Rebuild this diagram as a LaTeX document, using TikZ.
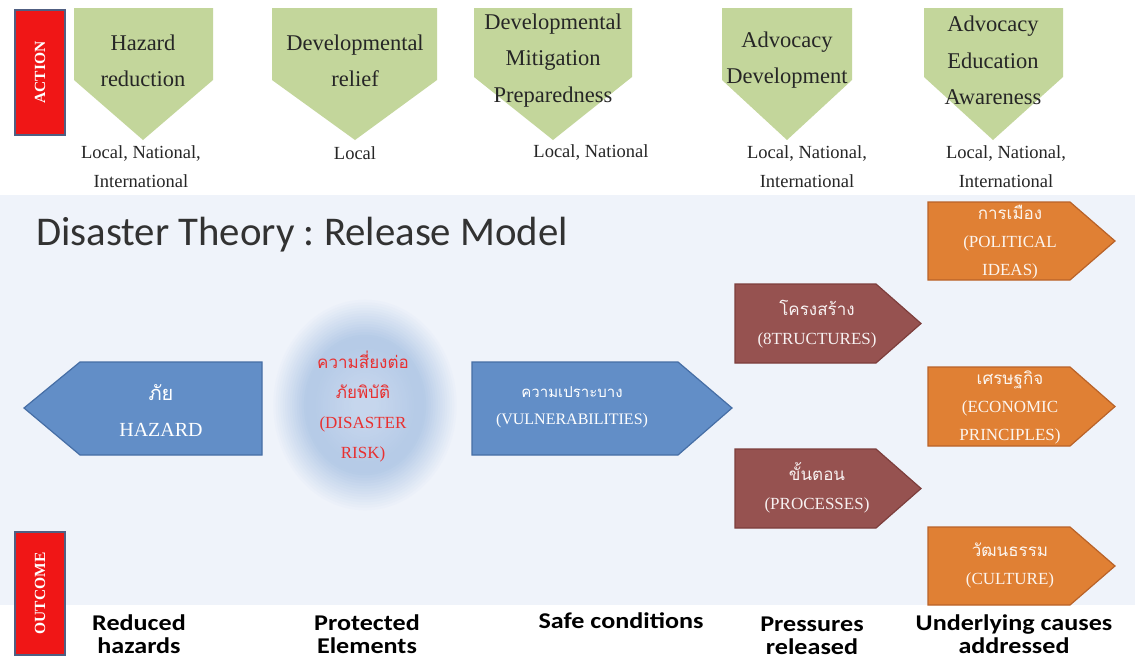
\documentclass[tikz,border=0pt]{standalone}
\usepackage{fontspec}
\setmainfont{Liberation Serif}
\newfontfamily\thaifont[Script=Thai]{Loma}
\newfontfamily\calfont{Carlito}
\definecolor{bgc}{RGB}{239,243,250}
\definecolor{greenc}{RGB}{195,214,155}
\definecolor{bluec}{RGB}{98,142,199}
\definecolor{blueb}{RGB}{70,110,165}
\definecolor{brownc}{RGB}{150,82,80}
\definecolor{brownb}{RGB}{125,62,60}
\definecolor{orangec}{RGB}{224,128,52}
\definecolor{orangeb}{RGB}{185,98,40}
\definecolor{redc}{RGB}{240,22,22}
\definecolor{redb}{RGB}{80,95,130}
\definecolor{riskred}{RGB}{232,48,48}
\definecolor{glowb}{RGB}{182,203,231}
\definecolor{glowc}{RGB}{198,214,237}
\definecolor{titlec}{RGB}{50,50,50}
\newcommand\wide[1]{\scalebox{1.16}[1]{#1}}
\tikzset{
  greenbox/.style={fill=greenc},
  bluebox/.style={fill=bluec, draw=blueb, line width=1.2pt},
  brownbox/.style={fill=brownc, draw=brownb, line width=1.2pt},
  orangebox/.style={fill=orangec, draw=orangeb, line width=1.2pt},
  redbox/.style={fill=redc, draw=redb, line width=1.6pt},
  gtext/.style={align=center, font=\fontsize{22.5}{36.5}\selectfont, text=black!85, inner sep=0pt},
  ltext/.style={align=center, font=\fontsize{18.5}{29}\selectfont, text=black!85, inner sep=0pt},
  wtext/.style={align=center, text=white, inner sep=0pt},
  otext/.style={align=center, font=\fontsize{17}{28}\selectfont, text=white!92!orangec, inner sep=0pt},
  btext/.style={align=center, font=\fontsize{17}{29}\selectfont, text=white!92!brownc, inner sep=0pt},
  outtext/.style={align=center, font=\calfont\bfseries\fontsize{22.5}{23}\selectfont, text=black, inner sep=0pt},
  sidetext/.style={rotate=90, text=white, font=\bfseries\fontsize{15.5}{18}\selectfont, inner sep=0pt}
}
\begin{document}
\begin{tikzpicture}[x=1pt,y=-1pt]
\useasboundingbox (0,0) rectangle (1135,659);
\fill[white] (0,0) rectangle (1135,659);
\fill[bgc] (0,195) rectangle (1135,605);

% ACTION box
\draw[redbox] (15,10) rectangle (65,135);
\node[sidetext] (action) at (40,72.5) {ACTION};

% green down arrows
\fill[greenbox] (74,8) -- (213,8) -- (213,80) -- (143,140) -- (74,80) -- cycle;
\fill[greenbox] (272,8) -- (437,8) -- (437,80) -- (355,140) -- (272,80) -- cycle;
\fill[greenbox] (474,8) -- (632,8) -- (632,77) -- (553,140) -- (474,77) -- cycle;
\fill[greenbox] (722,8) -- (852,8) -- (852,80) -- (787,140) -- (722,80) -- cycle;
\fill[greenbox] (924,8) -- (1063,8) -- (1063,77) -- (993,140) -- (924,77) -- cycle;

\node[gtext] (g1) at (143,61) {Hazard\\reduction};
\node[gtext] (g2) at (355,61) {Developmental\\relief};
\node[gtext] (g3) at (553,60.5) {Developmental\\Mitigation\\Preparedness};
\node[gtext] (g4) at (787,60) {Advocacy\\Development};
\node[gtext] (g5) at (993,60.5) {Advocacy\\Education\\Awareness};

\node[ltext] (l1) at (141,167) {Local, National,\\International};
\node[ltext] (l2) at (355,153) {Local};
\node[ltext] (l3) at (591,153) {Local, National};
\node[ltext] (l4) at (807,167) {Local, National,\\International};
\node[ltext] (l5) at (1006,167) {Local, National,\\International};

% title
\node[anchor=base west, inner sep=0pt, font=\calfont\fontsize{40.8}{44}\selectfont\frenchspacing, text=titlec] (title) at (36,245) {Disaster Theory : Release Model};

% glow (soft halo built from nested ellipses)
\foreach \i in {0,...,36} {
  \pgfmathsetmacro\rx{94*(1-\i/40)}
  \pgfmathsetmacro\ry{108*(1-\i/40)}
  \pgfmathsetmacro\p{min(100,\i*7)}
  \pgfmathsetmacro\q{max(0,min(100,(\i-18)*6))}
  \fill[glowc!\q!glowb!\p!bgc] (365,405) ellipse [x radius=\rx, y radius=\ry];
}

% hazard arrow
\draw[bluebox] (262,362) -- (80,362) -- (24,408) -- (80,455) -- (262,455) -- cycle;
\node[wtext, font=\fontsize{20}{36}\selectfont] (haz) at (161,411) {{\thaifont ภัย}\\HAZARD};

% risk text
\node[align=center, inner sep=0pt, text=riskred, font=\fontsize{17}{30}\selectfont] (risk) at (363,407) {{\thaifont ความสี่ยงต่อ}\\{\thaifont ภัยพิบัติ}\\(DISASTER\\RISK)};

% vulnerability arrow
\draw[bluebox] (472,362) -- (678,362) -- (732,408) -- (678,455) -- (472,455) -- cycle;
\node[wtext, font=\fontsize{16}{27}\selectfont] (vul) at (572,407) {{\thaifont\fontsize{15}{27}\selectfont ความเปราะบาง}\\(VULNERABILITIES)};

% brown arrows
\draw[brownbox] (735,284) -- (876,284) -- (921,323.5) -- (876,363) -- (735,363) -- cycle;
\node[btext] (str) at (817,324) {{\thaifont โครงสร้าง}\\(8TRUCTURES)};
\draw[brownbox] (735,449) -- (876,449) -- (921,488.5) -- (876,528) -- (735,528) -- cycle;
\node[btext] (pro) at (817,488) {{\thaifont ขั้นตอน}\\(PROCESSES)};

% orange arrows
\draw[orangebox] (928,202) -- (1070,202) -- (1115,241) -- (1070,280) -- (928,280) -- cycle;
\node[otext] (pol) at (1010,242) {{\thaifont การเมือง}\\(POLITICAL\\IDEAS)};
\draw[orangebox] (928,367) -- (1070,367) -- (1115,406.5) -- (1070,446) -- (928,446) -- cycle;
\node[otext] (eco) at (1010,407) {{\thaifont เศรษฐกิจ}\\(ECONOMIC\\PRINCIPLES)};
\draw[orangebox] (928,527) -- (1070,527) -- (1115,566) -- (1070,605) -- (928,605) -- cycle;
\node[otext] (cul) at (1010,566) {{\thaifont วัฒนธรรม}\\(CULTURE)};

% OUTCOME box
\draw[redbox] (15,532) rectangle (65,655);
\node[sidetext] (outcome) at (40,593.5) {OUTCOME};

% bottom labels
\node[outtext] (o1) at (139,634) {\wide{Reduced}\\\wide{hazards}};
\node[outtext] (o2) at (367,634) {\wide{Protected}\\\wide{Elements}};
\node[outtext] (o3) at (621,621) {\wide{Safe conditions}};
\node[outtext] (o4) at (812,636) {\wide{Pressures}\\\wide{released}};
\node[outtext] (o5) at (1014,634) {\wide{Underlying causes}\\\wide{addressed}};
\end{tikzpicture}
\end{document}
